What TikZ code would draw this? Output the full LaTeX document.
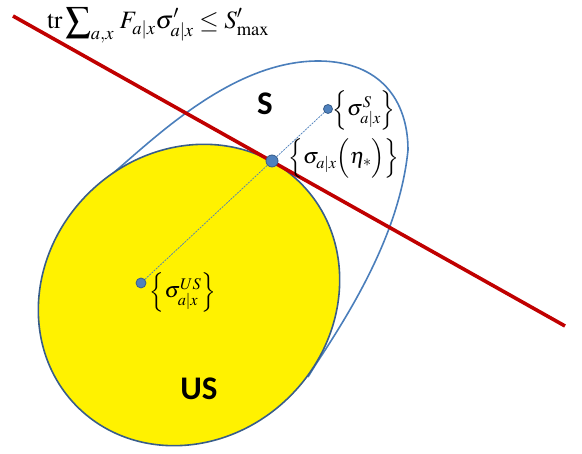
\documentclass[tikz,border=0pt]{standalone}
\usepackage{mathptmx}
\usepackage{fontspec}
\setmainfont{Liberation Serif}
\newfontfamily\calibrifont{Carlito}
\definecolor{sblue}{RGB}{74,126,187}
\definecolor{dblue}{RGB}{56,93,138}
\definecolor{dotfill}{RGB}{79,129,189}
\definecolor{redline}{RGB}{192,0,0}
\tikzset{
  souter/.style={draw=sblue, line width=1.6pt},
  usfill/.style={fill=yellow, draw=dblue, line width=1.6pt},
  constraint/.style={draw=redline, line width=3.6pt},
  guide/.style={draw=sblue, line width=0.7pt, dash pattern=on 2pt off 1pt},
  stdot/.style={circle, fill=dotfill, draw=dblue, line width=0.8pt, inner sep=0pt, minimum size=#1},
  lbl/.style={inner sep=0pt, font=\fontsize{22}{26}\selectfont},
  setname/.style={inner sep=0pt, font=\calibrifont\bfseries\fontsize{33}{36}\selectfont}
}
\begin{document}
\begin{tikzpicture}[x=1pt,y=-1pt]
\useasboundingbox (0,0) rectangle (582,454);
% S region outline
\coordinate (s0) at (105,180);
\coordinate (s1) at (320,61);
\coordinate (s2) at (408,150);
\coordinate (s3) at (316,364);
\draw[souter] (s0) .. controls (150,143) and (230,60) .. (s1)
  .. controls (380,62) and (408,100) .. (s2)
  .. controls (400,230) and (355,305) .. (s3) -- (308,377);
% US region
\draw[usfill, rotate around={45:(189,295)}] (189,295) ellipse [x radius=158, y radius=143];
% constraint line
\coordinate (l1) at (13,16);
\coordinate (l2) at (565,326);
\draw[constraint] (l1) -- (l2);
% points
\node[stdot=10pt] (pus) at (141,283) {};
\node[stdot=12pt] (pst) at (272,161) {};
\node[stdot=9pt] (ps) at (328,109) {};
\draw[guide] (pus) -- (pst) -- (ps);
% labels
\node[lbl] (tus) at (183,292) {$\Bigl\{\sigma^{US}_{a|x}\Bigr\}$};
\node[lbl] (tst) at (344,158) {$\Bigl\{\sigma_{a|x}\Bigl(\eta_*\Bigr)\Bigr\}$};
\node[lbl] (ts) at (364,110) {$\Bigl\{\sigma^{S}_{a|x}\Bigr\}$};
\node[setname] (nS) at (265,104) {S};
\node[setname] (nUS) at (199,389) {US};
\node[anchor=base west, inner sep=0pt, font=\fontsize{25}{30}\selectfont] (formula) at (47,29)
 {$\mathrm{tr}\displaystyle\sum\nolimits_{a,x}\, F_{a|x}\sigma'_{a|x} \le S'_{\max}$};
\end{tikzpicture}
\end{document}
